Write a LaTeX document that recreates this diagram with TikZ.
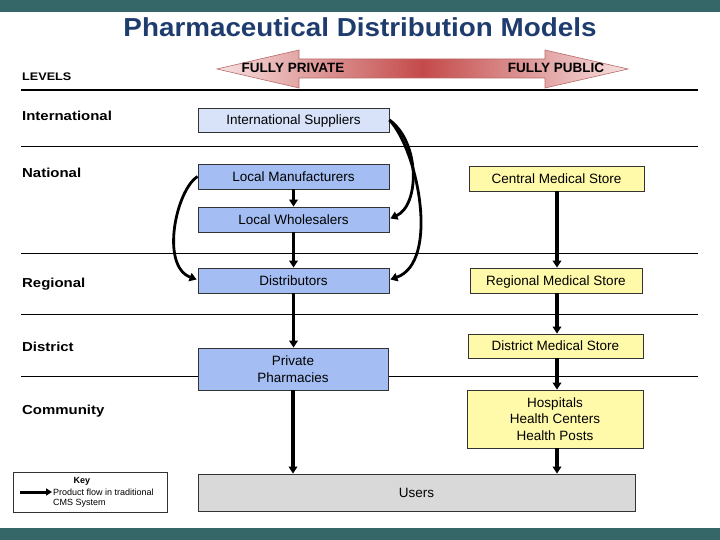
\documentclass[tikz,border=0pt]{standalone}
\usepackage{fontspec}
\setmainfont{Liberation Sans}
\newfontfamily\titlefont[FakeStretch=1.07]{Liberation Sans}
\newfontfamily\levelfont[FakeStretch=1.15]{Liberation Sans}
\usetikzlibrary{arrows.meta,calc}
\definecolor{barteal}{HTML}{356769}
\definecolor{titleblue}{HTML}{1F3C6E}
\definecolor{lightblue}{HTML}{D8E3FA}
\definecolor{midblue}{HTML}{A4BEF3}
\definecolor{paleyellow}{HTML}{FFFAAA}
\definecolor{usersgray}{HTML}{D9D9D9}
\definecolor{pinkend}{HTML}{F7E2E2}
\definecolor{redmid}{HTML}{C44A4A}
\definecolor{arrowedge}{HTML}{B86A6A}
\tikzset{
  boxstyle/.style={draw=black!80, line width=0.8pt, inner sep=0pt, align=center,
    font=\fontsize{13.5}{16.5}\selectfont},
  onebox/.style={boxstyle, text height=9.7pt, text depth=0pt},
  levelstyle/.style={anchor=base west, inner sep=0pt, font=\levelfont\bfseries\fontsize{13}{15}\selectfont},
  flow/.style={line width=3.3pt, -{Triangle[length=7pt,width=8.5pt]}},
  curveflow/.style={line width=2.8pt, -{Triangle[length=7pt,width=8.5pt]}},
  levelline/.style={line width=0.8pt, black}
}
\begin{document}
\begin{tikzpicture}[x=1pt,y=-1pt]
\useasboundingbox (0,0) rectangle (720,540);
\fill[white] (0,0) rectangle (720,540);
% bars
\fill[barteal] (0,0) rectangle (720,12);
\fill[barteal] (0,528) rectangle (720,540);
% title
\node[anchor=base, inner sep=0pt, text=titleblue, font=\titlefont\bfseries\fontsize{26}{30}\selectfont] (title) at (360,37) {Pharmaceutical Distribution Models};
% top gradient arrow
\path[draw=arrowedge, line width=0.6pt, left color=pinkend, right color=pinkend, middle color=redmid]
  (217,69) -- (299,50) -- (299,59) -- (545,59) -- (545,50) -- (628,69) -- (545,88) -- (545,78) -- (299,78) -- (299,88) -- cycle;
\node[inner sep=0pt, font=\bfseries\fontsize{13.5}{15}\selectfont] (priv) at (293,68) {FULLY PRIVATE};
\node[inner sep=0pt, font=\bfseries\fontsize{13.5}{15}\selectfont] (pub) at (556,68) {FULLY PUBLIC};
% level lines
\draw[line width=2pt] (21,90) -- (698,90);
\draw[levelline] (21,146.5) -- (698,146.5);
\draw[levelline] (21,253) -- (698,253);
\draw[levelline] (21,314) -- (698,314);
\draw[levelline] (21,376) -- (698,376);
% level labels
\node[levelstyle, font=\levelfont\bfseries\fontsize{11}{13}\selectfont] (lvl) at (22,81) {LEVELS};
\node[levelstyle] (lint) at (22,120.5) {International};
\node[levelstyle] (lnat) at (22,177.5) {National};
\node[levelstyle] (lreg) at (22,287.5) {Regional};
\node[levelstyle] (ldis) at (22,351) {District};
\node[levelstyle] (lcom) at (22,414) {Community};
% boxes
\node[onebox, fill=lightblue, minimum width=191pt, minimum height=24pt] (is) at (293.5,120) {International Suppliers};
\node[onebox, fill=midblue, minimum width=191pt, minimum height=25pt] (lm) at (293.5,176.5) {Local Manufacturers};
\node[onebox, fill=midblue, minimum width=191pt, minimum height=25pt] (lw) at (293.5,219.5) {Local Wholesalers};
\node[onebox, fill=midblue, minimum width=191pt, minimum height=25pt] (dist) at (293.5,280.5) {Distributors};
\node[boxstyle, fill=midblue, minimum width=190pt, minimum height=42pt] (pp) at (293,369) {Private\\Pharmacies};
\node[onebox, fill=paleyellow, minimum width=175pt, minimum height=25pt] (cms) at (556.5,178.5) {Central Medical Store};
\node[onebox, fill=paleyellow, minimum width=172pt, minimum height=25pt] (rms) at (556,280.5) {Regional Medical Store};
\node[onebox, fill=paleyellow, minimum width=175pt, minimum height=24pt] (dms) at (555.5,346) {District Medical Store};
\node[boxstyle, fill=paleyellow, minimum width=176pt, minimum height=58pt] (hosp) at (555,419) {Hospitals\\Health Centers\\Health Posts};
\node[onebox, fill=usersgray, minimum width=437pt, minimum height=37pt] (users) at (416.5,492.5) {Users};
% key
\node[draw=black!80, line width=0.8pt, fill=white, minimum width=154pt, minimum height=40pt, inner sep=0pt] (key) at (90,492) {};
\node[inner sep=0pt, font=\bfseries\fontsize{9}{10}\selectfont] (keyt) at (82,481) {Key};
\coordinate (k1) at (20,492);
\coordinate (k2) at (52,492);
\draw[line width=3pt, -{Triangle[length=6pt,width=7pt]}] (k1) -- (k2);
\node[anchor=base west, inner sep=0pt, font=\fontsize{9}{10}\selectfont] (kl1) at (53,495) {Product flow in traditional};
\node[anchor=base west, inner sep=0pt, font=\fontsize{9}{10}\selectfont] (kl2) at (53,505.5) {CMS System};
% straight flows
\draw[flow] (lm.south) -- (lw.north);
\draw[flow] (lw.south) -- (dist.north);
\draw[flow] (dist.south) -- (dist.south |- pp.north);
\draw[flow] (pp.south) -- (pp.south |- users.north);
\draw[flow] ($(cms.south)+(0.5,0)$) -- ($(cms.south |- rms.north)+(0.5,0)$);
\draw[flow] ($(cms.south |- rms.south)+(0.5,0)$) -- ($(cms.south |- dms.north)+(0.5,0)$);
\draw[flow] ($(cms.south |- dms.south)+(0.5,0)$) -- ($(cms.south |- hosp.north)+(0.5,0)$);
\draw[flow] ($(cms.south |- hosp.south)+(0.5,0)$) -- ($(cms.south |- users.north)+(0.5,0)$);
% curved flows
\draw[curveflow] (is.east) .. controls (420,142) and (420,205) .. ($(lw.east)+(1,-1)$);
\draw[curveflow] (is.east) .. controls (418,150) and (440,262) .. ($(dist.east)+(1,-1)$);
\draw[curveflow] (lm.west) .. controls (176,190) and (160,266) .. ($(dist.west)+(-1,-1)$);
\end{tikzpicture}
\end{document}
